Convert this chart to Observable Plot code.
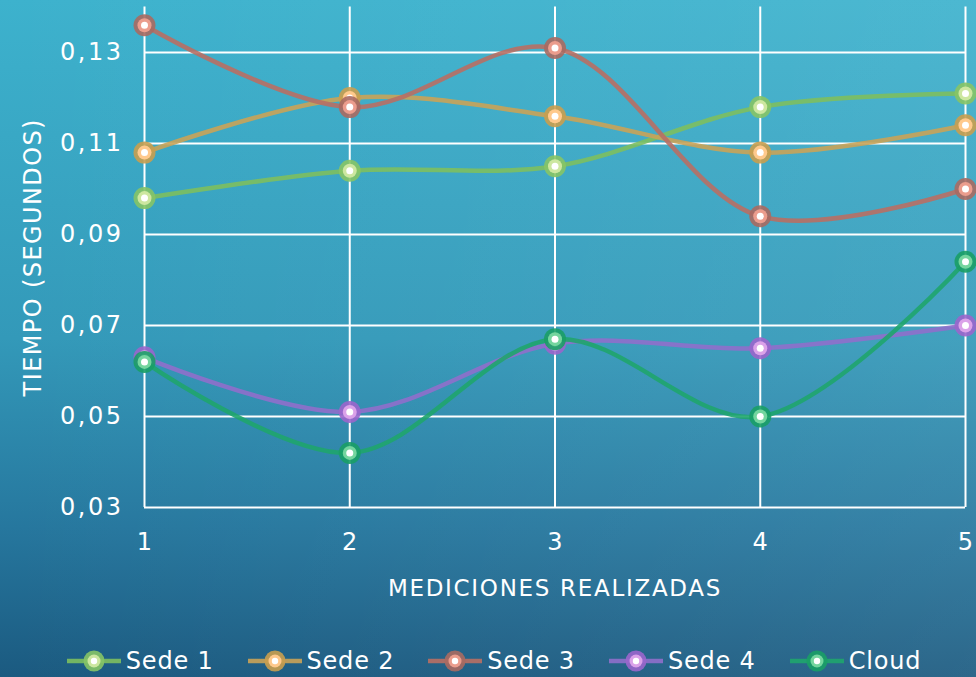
<!DOCTYPE html>
<html>
<head>
<meta charset="utf-8">
<script src="https://cdn.jsdelivr.net/npm/d3@7"></script>
<script src="https://cdn.jsdelivr.net/npm/@observablehq/plot@0.6"></script>
<style>
  html, body { margin: 0; padding: 0; }
  body {
    width: 976px; height: 677px; overflow: hidden;
    background:
      linear-gradient(to right, rgba(255,255,255,0) 0%, rgba(255,255,255,0.08) 100%),
      linear-gradient(to bottom, #3db2cd 0%, #3399b9 50%, #26779e 78%, #1b5a80 100%);
    font-family: "DejaVu Sans", sans-serif;
    color: white;
  }
  #chart svg { display: block; background: transparent; }
  #legend {
    height: 47px; box-sizing: border-box; padding-top: 14px; padding-left: 12px;
    display: flex; justify-content: center; align-items: center; gap: 34px;
  }
  .item { display: flex; align-items: center; gap: 5px; font-size: 24px; font-weight: 400; letter-spacing: 0.8px; }
  .item svg { display: block; }
  .ytick text { letter-spacing: 2.5px; }
</style>
</head>
<body>
<div id="chart"></div>
<div id="legend"></div>
<script>
const measurements = [1, 2, 3, 4, 5];
const seriesNames = ["Sede 1", "Sede 2", "Sede 3", "Sede 4", "Cloud"];
const sede1 = [0.098, 0.104, 0.105, 0.118, 0.121];
const sede2 = [0.108, 0.120, 0.116, 0.108, 0.114];
const sede3 = [0.136, 0.118, 0.131, 0.094, 0.100];
const sede4 = [0.063, 0.051, 0.066, 0.065, 0.070];
const cloud = [0.062, 0.042, 0.067, 0.050, 0.084];
const yTicks = [0.03, 0.05, 0.07, 0.09, 0.11, 0.13];
const xLabel = "MEDICIONES REALIZADAS";
const yLabel = "TIEMPO (SEGUNDOS)";

const lineColors  = ["#7dbf5f", "#c9a358", "#b86f64", "#8f6fcb", "#1fa56d"];
const outerColors = ["#86c466", "#c99f4f", "#a96a62", "#9a66cc", "#1a9e66"];
const innerColors = ["#cde7a0", "#ffc98c", "#eb9d8d", "#dba2e9", "#74d59e"];

const allValues = [sede1, sede2, sede3, sede4, cloud];
const series = seriesNames.map((name, i) => ({
  name, line: lineColors[i], outer: outerColors[i], inner: innerColors[i],
  data: measurements.map((m, j) => ({x: m, y: allValues[i][j]}))
}));

const fmt = v => v.toFixed(2).replace(".", ",");
const font = "DejaVu Sans";

const marks = [
  Plot.gridX(measurements, {stroke: "white", strokeOpacity: 1, strokeWidth: 2}),
  Plot.gridY(yTicks, {stroke: "white", strokeOpacity: 1, strokeWidth: 2}),
  Plot.axisX(measurements, {tickSize: 0, tickPadding: 25, fontSize: 24, fill: "white", label: null, tickFormat: d => String(d)}),
  Plot.axisY(yTicks, {tickSize: 0, tickPadding: 21, fontSize: 24, fill: "white", label: null, tickFormat: fmt, className: "ytick"}),
  Plot.text([xLabel], {frameAnchor: "bottom", dy: 81, text: d => d, fill: "white", fontSize: 23, lineAnchor: "middle", textAnchor: "middle", className: "xlab"}),
  Plot.text([yLabel], {frameAnchor: "left", dx: -111, rotate: -90, text: d => d, fill: "white", fontSize: 24, lineAnchor: "middle", textAnchor: "middle", className: "ylab"})
];
for (const s of series) {
  marks.push(Plot.line(s.data, {x: "x", y: "y", curve: "catmull-rom", stroke: s.line, strokeWidth: 4.5, strokeOpacity: 0.9}));
  marks.push(Plot.dot(s.data, {x: "x", y: "y", r: 11, fill: s.outer, fillOpacity: 0.9}));
  marks.push(Plot.dot(s.data, {x: "x", y: "y", r: 7, fill: s.inner}));
  marks.push(Plot.dot(s.data, {x: "x", y: "y", r: 3.5, fill: "white"}));
}

const chart = Plot.plot({
  width: 976,
  height: 630,
  marginLeft: 144,
  marginRight: 11,
  marginTop: 6.5,
  marginBottom: 123,
  style: {background: "transparent", fontFamily: font, color: "white", overflow: "visible"},
  x: {type: "linear", domain: [1, 5]},
  y: {type: "linear", domain: [0.03, 0.14]},
  marks
});
chart.querySelectorAll(".xlab text").forEach(t => t.style.letterSpacing = "1.7px");
chart.querySelectorAll(".ylab text").forEach(t => t.style.letterSpacing = "1.4px");
document.getElementById("chart").appendChild(chart);

const legend = document.getElementById("legend");
for (const s of series) {
  const item = document.createElement("div");
  item.className = "item";
  item.innerHTML = `<svg width="54" height="24" viewBox="0 0 54 24">
    <line x1="0" y1="12" x2="54" y2="12" stroke="${s.line}" stroke-width="4.5" stroke-opacity="0.9"/>
    <circle cx="27" cy="12" r="10.5" fill="${s.outer}" fill-opacity="0.9"/>
    <circle cx="27" cy="12" r="6.5" fill="${s.inner}"/>
    <circle cx="27" cy="12" r="3.2" fill="white"/>
  </svg><span>${s.name}</span>`;
  legend.appendChild(item);
}
</script>
</body>
</html>
